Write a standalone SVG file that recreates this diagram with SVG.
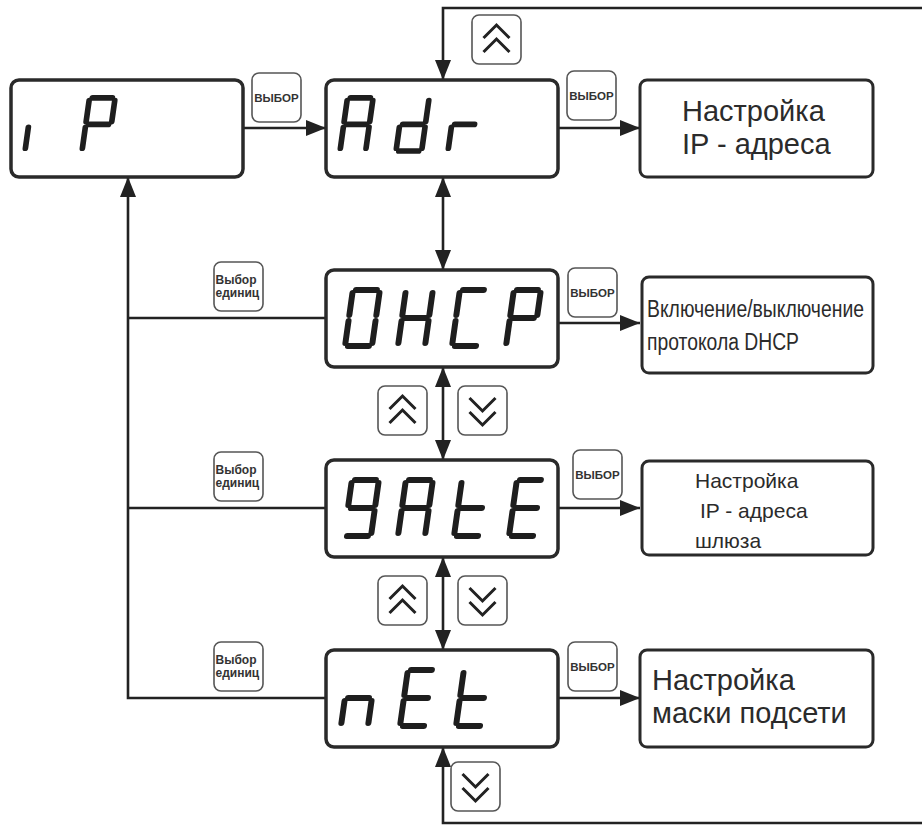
<svg xmlns="http://www.w3.org/2000/svg" xmlns:xlink="http://www.w3.org/1999/xlink" width="922" height="826" viewBox="0 0 922 826">
<style>
.disp{fill:#fff;stroke:#2a2a2a;stroke-width:3.5}
.res{fill:#fff;stroke:#2a2a2a;stroke-width:3}
.btn{fill:#fff;stroke:#555;stroke-width:1.6}
.seg{stroke:#1e1e1e;stroke-width:6;stroke-linecap:round;fill:none}
.chev{fill:none;stroke:#222;stroke-width:3;stroke-linejoin:miter}
.conn{fill:none;stroke:#222;stroke-width:2.6}
.btxt{font-family:"Liberation Sans",Arial,sans-serif;font-weight:bold;font-size:11.5px;fill:#333}
.utxt{font-family:"Liberation Sans",Arial,sans-serif;font-weight:bold;font-size:12px;fill:#333}
.big{font-family:"Liberation Sans",Arial,sans-serif;font-size:29px;fill:#2b2b2b}
.mid{font-family:"Liberation Sans",Arial,sans-serif;font-size:21px;fill:#2b2b2b}
.nar{font-family:"Liberation Sans Narrow","Liberation Sans",Arial,sans-serif;font-size:23px;fill:#2b2b2b}
</style>
<defs>
<marker id="ah" markerUnits="userSpaceOnUse" markerWidth="20" markerHeight="16" refX="20" refY="8" orient="auto-start-reverse" viewBox="0 0 20 16">
<path d="M0,0 L20,8 L0,16 z" fill="#222"/>
</marker>
<line id="sa" class="seg" x1="3" y1="-56" x2="24" y2="-56"/>
<line id="sb" class="seg" x1="27" y1="-53" x2="27" y2="-31"/>
<line id="sc" class="seg" x1="27" y1="-25" x2="27" y2="-3"/>
<line id="sd" class="seg" x1="3" y1="0" x2="24" y2="0"/>
<line id="se" class="seg" x1="0" y1="-25" x2="0" y2="-3"/>
<line id="sf" class="seg" x1="0" y1="-53" x2="0" y2="-31"/>
<line id="sg" class="seg" x1="3" y1="-28" x2="24" y2="-28"/>
<g id="selbtn"><rect class="btn" x="0" y="0" width="49" height="49" rx="7"/><text class="btxt" x="24.5" y="29" text-anchor="middle">ВЫБОР</text></g>
<g id="unitbtn"><rect class="btn" x="0" y="0" width="49" height="49" rx="7"/><text class="utxt" x="1.5" y="22">Выбор</text><text class="utxt" x="1.5" y="35">единиц</text></g>
<g id="upbtn"><rect class="btn" x="0" y="0" width="49" height="49" rx="7"/><polyline class="chev" points="11.5,23 24.5,10 37.5,23"/><polyline class="chev" points="11.5,37 24.5,24 37.5,37"/></g>
<g id="dnbtn"><rect class="btn" x="0" y="0" width="49" height="49" rx="7"/><polyline class="chev" points="11.5,12 24.5,25 37.5,12"/><polyline class="chev" points="11.5,26 24.5,39 37.5,26"/></g>
</defs>

<g id="connectors">
<line class="conn" x1="243" y1="128" x2="326" y2="128" marker-end="url(#ah)"/>
<line class="conn" x1="558" y1="128" x2="640" y2="128" marker-end="url(#ah)"/>
<polyline class="conn" points="922,8 443,8 443,80" marker-end="url(#ah)"/>
<line class="conn" x1="443" y1="177" x2="443" y2="270" marker-start="url(#ah)" marker-end="url(#ah)"/>
<line class="conn" x1="558" y1="323" x2="640" y2="323" marker-end="url(#ah)"/>
<line class="conn" x1="443" y1="367" x2="443" y2="460" marker-start="url(#ah)" marker-end="url(#ah)"/>
<line class="conn" x1="558" y1="508" x2="640" y2="508" marker-end="url(#ah)"/>
<line class="conn" x1="443" y1="557" x2="443" y2="650" marker-start="url(#ah)" marker-end="url(#ah)"/>
<line class="conn" x1="558" y1="698" x2="640" y2="698" marker-end="url(#ah)"/>
<polyline class="conn" points="922,823 443,823 443,747" marker-end="url(#ah)"/>
<line class="conn" x1="326" y1="318" x2="128" y2="318"/>
<line class="conn" x1="326" y1="508" x2="128" y2="508"/>
<polyline class="conn" points="326,698 128,698 128,177" marker-end="url(#ah)"/>
</g>

<g id="node-ip">
<rect class="disp" x="11" y="80" width="232" height="97" rx="8"/>
<g transform="translate(25,151) scale(0.95) skewX(-8)"><use href="#se"/></g>
<g transform="translate(82,151) scale(0.95) skewX(-8)"><use href="#sa"/><use href="#sb"/><use href="#sf"/><use href="#sg"/><use href="#se"/></g>
</g>

<g id="node-adr">
<rect class="disp" x="326" y="80" width="232" height="97" rx="8"/>
<g transform="translate(340,151) scale(0.95) skewX(-8)"><use href="#sa"/><use href="#sb"/><use href="#sc"/><use href="#se"/><use href="#sf"/><use href="#sg"/></g>
<g transform="translate(396,151) scale(0.95) skewX(-8)"><use href="#sb"/><use href="#sc"/><use href="#sd"/><use href="#se"/><use href="#sg"/></g>
<g transform="translate(448,151) scale(0.95) skewX(-8)"><use href="#se"/><use href="#sg"/></g>
</g>

<g id="node-dhcp">
<rect class="disp" x="326" y="270" width="232" height="97" rx="8"/>
<g transform="translate(345,346) skewX(-8)"><use href="#sa"/><use href="#sb"/><use href="#sc"/><use href="#sd"/><use href="#se"/><use href="#sf"/></g>
<g transform="translate(398,346) skewX(-8)"><use href="#sb"/><use href="#sc"/><use href="#se"/><use href="#sf"/><use href="#sg"/></g>
<g transform="translate(452,346) skewX(-8)"><use href="#sa"/><use href="#sd"/><use href="#se"/><use href="#sf"/></g>
<g transform="translate(506,346) skewX(-8)"><use href="#sa"/><use href="#sb"/><use href="#se"/><use href="#sf"/><use href="#sg"/></g>
</g>

<g id="node-gate">
<rect class="disp" x="326" y="460" width="232" height="97" rx="8"/>
<g transform="translate(344,536) skewX(-8)"><use href="#sa"/><use href="#sb"/><use href="#sc"/><use href="#sd"/><use href="#sf"/><use href="#sg"/></g>
<g transform="translate(398,536) skewX(-8)"><use href="#sa"/><use href="#sb"/><use href="#sc"/><use href="#se"/><use href="#sf"/><use href="#sg"/></g>
<g transform="translate(454,536) skewX(-8)"><use href="#sd"/><use href="#se"/><use href="#sf"/><use href="#sg"/></g>
<g transform="translate(509,536) skewX(-8)"><use href="#sa"/><use href="#sd"/><use href="#se"/><use href="#sf"/><use href="#sg"/></g>
</g>

<g id="node-net">
<rect class="disp" x="326" y="650" width="232" height="97" rx="8"/>
<g transform="translate(341,726) skewX(-8)"><use href="#sc"/><use href="#se"/><use href="#sg"/></g>
<g transform="translate(400,726) skewX(-8)"><use href="#sa"/><use href="#sd"/><use href="#se"/><use href="#sf"/><use href="#sg"/></g>
<g transform="translate(456,726) skewX(-8)"><use href="#sd"/><use href="#se"/><use href="#sf"/><use href="#sg"/></g>
</g>

<g id="node-res-ip">
<rect class="res" x="640" y="80" width="233" height="97" rx="7"/>
<text class="big" x="682" y="121">Настройка</text>
<text class="big" x="682" y="154">IP - адреса</text>
</g>

<g id="node-res-dhcp">
<rect class="res" x="642" y="277" width="231" height="96" rx="7"/>
<text class="nar" x="647" y="317" textLength="217" lengthAdjust="spacingAndGlyphs">Включение/выключение</text>
<text class="nar" x="647" y="350" textLength="152" lengthAdjust="spacingAndGlyphs">протокола DHCP</text>
</g>

<g id="node-res-gate">
<rect class="res" x="642" y="461" width="231" height="94" rx="7"/>
<text class="mid" x="695" y="488">Настройка</text>
<text class="mid" x="700" y="518">IP - адреса</text>
<text class="mid" x="695" y="548">шлюза</text>
</g>

<g id="node-res-net">
<rect class="res" x="640" y="650" width="233" height="97" rx="7"/>
<text class="big" x="652" y="690">Настройка</text>
<text class="big" x="652" y="723">маски подсети</text>
</g>

<g id="btn-sel-1"><use href="#selbtn" transform="translate(252,73)"/></g>
<g id="btn-sel-2"><use href="#selbtn" transform="translate(567,71)"/></g>
<g id="btn-sel-3"><use href="#selbtn" transform="translate(568,268)"/></g>
<g id="btn-sel-4"><use href="#selbtn" transform="translate(573,450)"/></g>
<g id="btn-sel-5"><use href="#selbtn" transform="translate(568,642)"/></g>
<g id="btn-unit-1"><use href="#unitbtn" transform="translate(214,262)"/></g>
<g id="btn-unit-2"><use href="#unitbtn" transform="translate(214,452)"/></g>
<g id="btn-unit-3"><use href="#unitbtn" transform="translate(214,642)"/></g>
<g id="btn-up-top"><use href="#upbtn" transform="translate(472,15)"/></g>
<g id="btn-up-1"><use href="#upbtn" transform="translate(378,386)"/></g>
<g id="btn-dn-1"><use href="#dnbtn" transform="translate(458,386)"/></g>
<g id="btn-up-2"><use href="#upbtn" transform="translate(378,576)"/></g>
<g id="btn-dn-2"><use href="#dnbtn" transform="translate(458,576)"/></g>
<g id="btn-dn-bottom"><use href="#dnbtn" transform="translate(451,762)"/></g>
</svg>
